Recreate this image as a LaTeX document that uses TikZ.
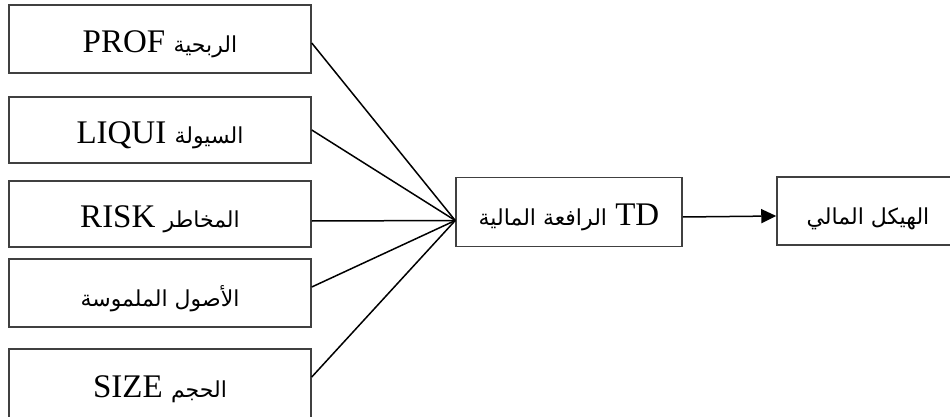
\documentclass[tikz,border=0pt]{standalone}
\usepackage{fontspec}
\setmainfont{Liberation Serif}
\newfontfamily\arabicfont[Script=Arabic]{DejaVu Sans}
\TeXXeTstate=1
\usetikzlibrary{arrows.meta}
\newcommand\artext[1]{{\arabicfont\fontsize{22}{26}\selectfont\beginR #1\endR}}

\begin{document}
\begin{tikzpicture}[x=1pt,y=-1pt,font=\fontsize{33}{38}\selectfont,
	var/.style={draw=black!75,line width=1.5pt,inner sep=0,minimum width=302pt,
		text height=27pt,text depth=0pt},
	link/.style={line width=1.5pt}]
\clip (0,0) rectangle (950,417);
\node[var,minimum height=68pt](prof) at (160,39){PROF \artext{الربحية}};
\node[var,minimum height=66pt](liqui) at (160,130){LIQUI \artext{السيولة}};
\node[var,minimum height=66pt](risk) at (160,214){RISK \artext{المخاطر}};
\node[var,minimum height=68pt](tang) at (160,293){\artext{الأصول الملموسة}};
\node[var,minimum height=70pt](size) at (160,384){SIZE \artext{الحجم}};
\node[var,minimum width=226pt,minimum height=69pt](td) at (569,212){\artext{الرافعة المالية} TD};
\node[var,minimum width=182pt,minimum height=68pt](struct) at (868,211){\artext{الهيكل المالي}};
\draw[link]([yshift=-4pt]prof.east)--([yshift=-8.5pt]td.west);
\draw[link](liqui.east)--([yshift=-8.5pt]td.west);
\draw[link]([yshift=-7pt]risk.east)--([yshift=-8.5pt]td.west);
\draw[link]([yshift=6pt]tang.east)--([yshift=-8.5pt]td.west);
\draw[link]([yshift=7pt]size.east)--([yshift=-8.5pt]td.west);
\draw[link,-{Triangle[length=15pt,width=14pt]}]([yshift=-5pt]td.east)--([yshift=-5pt]struct.west);
\end{tikzpicture}
\end{document}
